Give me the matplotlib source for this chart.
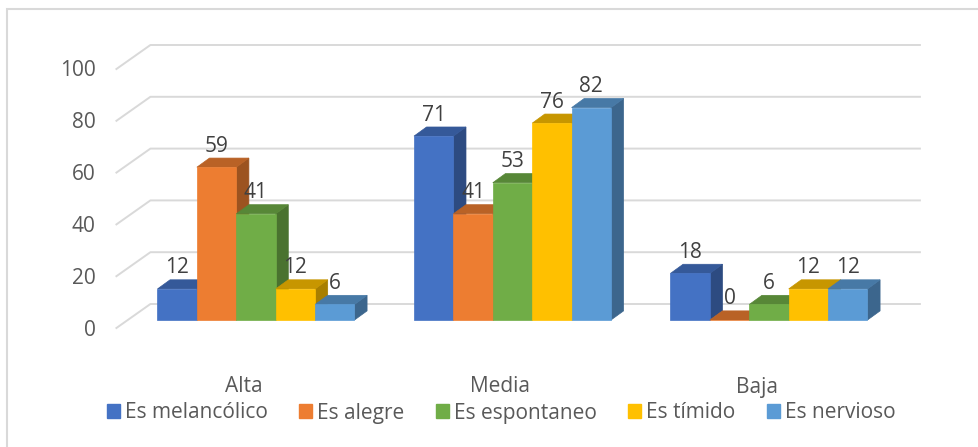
import matplotlib.pyplot as plt
import numpy as np
from matplotlib.patches import Polygon, Rectangle, Patch
from matplotlib.colors import to_rgb

# --- datos ---
categorias = ["Alta", "Media", "Baja"]
series = ["Es melancólico", "Es alegre", "Es espontaneo", "Es tímido", "Es nervioso"]
melancolico = [12, 71, 18]
alegre = [59, 41, 0]
espontaneo = [41, 53, 6]
timido = [12, 76, 12]
nervioso = [6, 82, 12]
valores = [melancolico, alegre, espontaneo, timido, nervioso]
ticks_y = [0, 20, 40, 60, 80, 100]

colores = ["#4472C4", "#ED7D31", "#70AD47", "#FFC000", "#5B9BD5"]

plt.rcParams["font.family"] = ["Open Sans", "DejaVu Sans"]
TXT = "#595959"
GRID = "#d9d9d9"
FS = 15

W, H = 979, 447
fig = plt.figure(figsize=(W / 100, H / 100), dpi=100)
# zona frontal de las barras (en pixeles de la imagen)
x_izq, x_der, y_cero, alto = 127.75, 897.25, 320, 259
ax = fig.add_axes([x_izq / W, (H - y_cero) / H, (x_der - x_izq) / W, alto / H])
ax.set_xlim(-0.5, len(categorias) - 0.5)
ax.set_ylim(0, 100)
ax.axis("off")

sx = (x_der - x_izq) / len(categorias)  # px por unidad x
sy = alto / 100  # px por unidad y


def off(dx_px, dy_px):
    return dx_px / sx, dy_px / sy


# profundidad del "3D"
PROF = (34, 24)
fx, fy = off(-PROF[0] / 3, -PROF[1] / 3)  # borde frontal del suelo
bx, by = off(PROF[0] * 2 / 3, PROF[1] * 2 / 3)  # pared del fondo
dx, dy = off(PROF[0] * 0.37, PROF[1] * 0.38)  # fondo de cada barra

x_min, x_max = ax.get_xlim()
for v in ticks_y:
    ax.plot([x_min + fx, x_min + bx, x_max + bx], [v + fy, v + by, v + by],
            color=GRID, lw=1.4, clip_on=False, zorder=1)
    ax.annotate(str(v), xy=(x_min + fx, v + fy), xytext=(-21, -2),
                textcoords="offset pixels", ha="right", va="center",
                fontsize=FS, color=TXT, annotation_clip=False)

bw = 39.4 / sx
z = 2
for i, cat in enumerate(categorias):
    for j, serie in enumerate(series):
        v = valores[j][i]
        c = np.array(to_rgb(colores[j]))
        x0 = i + (j - 2.5) * bw
        x1 = x0 + bw
        lado = Polygon([(x1, 0), (x1 + dx, dy), (x1 + dx, v + dy), (x1, v)],
                       closed=True, fc=c * 0.66, ec=c * 0.66, lw=0.5,
                       clip_on=False, zorder=z)
        tapa = Polygon([(x0, v), (x1, v), (x1 + dx, v + dy), (x0 + dx, v + dy)],
                       closed=True, fc=c * 0.78, ec=c * 0.78, lw=0.5,
                       clip_on=False, zorder=z)
        ax.add_patch(lado)
        ax.add_patch(tapa)
        ax.bar(x0, v, bw, align="edge", color=c, edgecolor=c, lw=0.5,
               clip_on=False, zorder=z)
        ax.annotate(str(v), xy=(x0 + bw / 2, v), xytext=(0, 21),
                    textcoords="offset pixels", ha="center", va="center",
                    fontsize=FS, color="#404040", zorder=50,
                    annotation_clip=False)
        z += 0.01
    ax.annotate(cat, xy=(i, 0), xytext=(-12, -67), textcoords="offset pixels",
                ha="center", va="center", fontsize=FS, color=TXT,
                annotation_clip=False)

handles = [Patch(color=c) for c in colores]
fig.legend(handles, series, loc="center", bbox_to_anchor=(0.512, 1 - 413 / H),
           ncol=5, frameon=False, fontsize=FS, handlelength=0.62,
           handleheight=0.62, handletextpad=0.25, columnspacing=1.5,
           labelcolor=TXT)

# marco exterior (solo se ven los bordes superior e izquierdo)
fig.patches.append(Rectangle((7 / W, -0.05), 1.0, 1 - 9 / H + 0.05, fill=False,
                             ec=GRID, lw=1.5, transform=fig.transFigure))

fig.savefig("out.png", dpi=100)
